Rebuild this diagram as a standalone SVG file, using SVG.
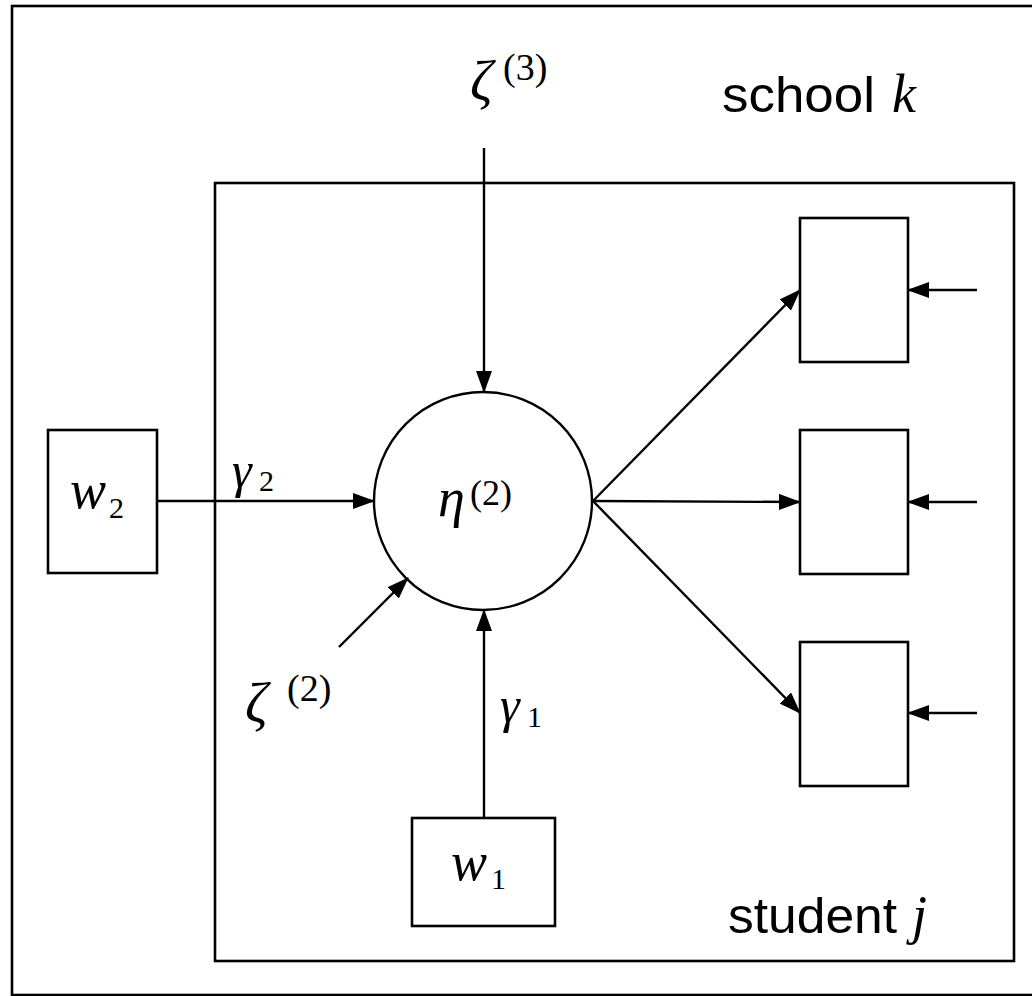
<svg xmlns="http://www.w3.org/2000/svg" width="1032" height="996" viewBox="0 0 1032 996">
<style>
.box{fill:none;stroke:#000;stroke-width:2.6}
.ln{fill:none;stroke:#000;stroke-width:2.4;marker-end:url(#ah)}
.m{font-family:"Liberation Serif","DejaVu Serif",serif;font-style:italic;fill:#000}
.r{font-family:"Liberation Serif","DejaVu Serif",serif;font-style:normal;fill:#000}
.s{font-family:"Liberation Sans",Arial,sans-serif;fill:#000}
</style>
<defs>
<marker id="ah" markerWidth="22" markerHeight="16" refX="21" refY="8" orient="auto" markerUnits="userSpaceOnUse">
<path d="M0,0 L22,8 L0,16 Z" fill="#000"/>
</marker>
</defs>
<rect class="box" x="12" y="6" width="1040" height="989"/>
<rect class="box" x="215" y="183" width="799" height="778"/>
<g id="eta">
<circle cx="483" cy="501" r="109" fill="none" stroke="#000" stroke-width="2.4"/>
<text class="m" x="438" y="516" font-size="54">η</text>
<text class="r" x="470" y="505" font-size="36">(2)</text>
</g>
<g id="w2">
<rect class="box" x="48" y="430" width="109" height="143"/>
<text class="m" x="70" y="508" font-size="54">w</text>
<text class="r" x="109" y="518" font-size="30">2</text>
</g>
<g id="w1">
<rect class="box" x="412" y="818" width="143" height="108"/>
<text class="m" x="451" y="880" font-size="54">w</text>
<text class="r" x="491" y="889" font-size="30">1</text>
</g>
<g id="y1"><rect class="box" x="800" y="218" width="108" height="144"/></g>
<g id="y2"><rect class="box" x="800" y="430" width="108" height="144"/></g>
<g id="y3"><rect class="box" x="800" y="642" width="108" height="144"/></g>
<g id="labels">
<text class="m" x="470" y="100" font-size="56">ζ</text>
<text class="r" x="503" y="80" font-size="38">(3)</text>
<text class="m" x="245" y="722" font-size="56">ζ</text>
<text class="r" x="287" y="701" font-size="38">(2)</text>
<text class="m" x="232" y="487" font-size="50">γ</text>
<text class="r" x="259" y="491" font-size="30">2</text>
<text class="m" x="500" y="722" font-size="50">γ</text>
<text class="r" x="527" y="727" font-size="30">1</text>
<text class="s" x="722" y="112" font-size="50" textLength="153" lengthAdjust="spacingAndGlyphs">school</text>
<text class="m" x="892" y="112" font-size="54">k</text>
<text class="s" x="728" y="933" font-size="50" textLength="169" lengthAdjust="spacingAndGlyphs">student</text>
<text class="m" x="912" y="933" font-size="54">j</text>
</g>
<g id="connectors">
<line class="ln" x1="484" y1="148" x2="484" y2="392"/>
<line class="ln" x1="157" y1="501" x2="374" y2="501"/>
<line class="ln" x1="484" y1="818" x2="484" y2="610"/>
<line class="ln" x1="339" y1="647" x2="408" y2="578"/>
<line class="ln" x1="593" y1="501" x2="800" y2="290"/>
<line class="ln" x1="593" y1="501" x2="800" y2="502"/>
<line class="ln" x1="593" y1="501" x2="800" y2="713"/>
<line class="ln" x1="977" y1="290" x2="908" y2="290"/>
<line class="ln" x1="977" y1="502" x2="908" y2="502"/>
<line class="ln" x1="977" y1="713" x2="908" y2="713"/>
</g>
</svg>
